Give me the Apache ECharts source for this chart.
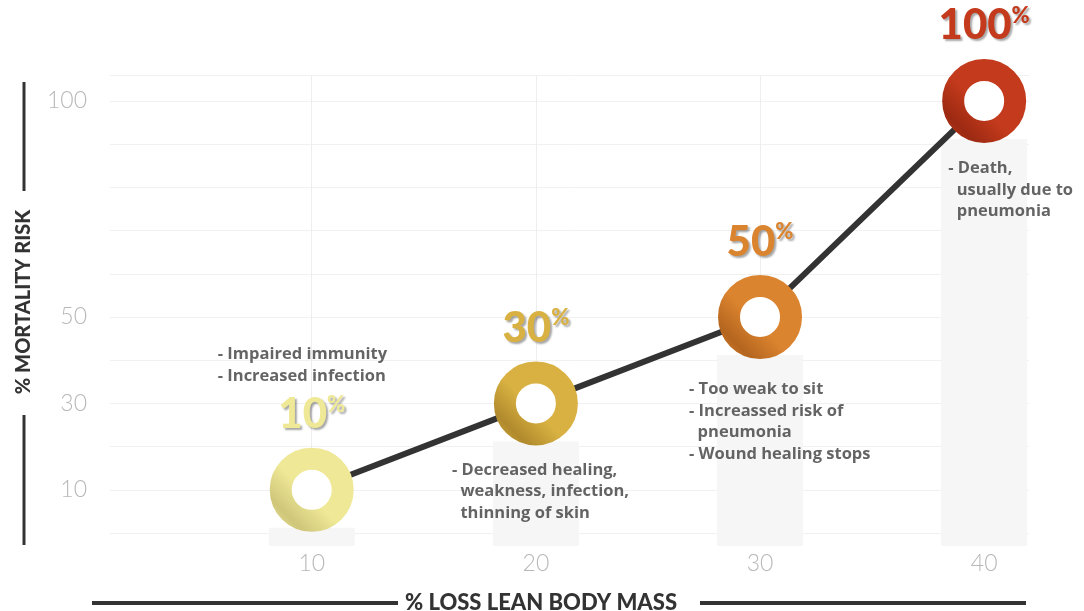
<!DOCTYPE html>
<html lang="en">
<head>
    <meta charset="UTF-8">
    <title>Mortality risk vs loss of lean body mass</title>
    <script src="https://cdn.jsdelivr.net/npm/echarts@6/dist/echarts.min.js"></script>
    <style>
        * { margin: 0; padding: 0; box-sizing: border-box; }
        body { background: #fff; }
        #chart { width: 1084px; height: 611px; }
    </style>
</head>
<body>
    <div id="chart"></div>
    <script>
        // data
        const lossMass = [10, 20, 30, 40];
        const mortality = [10, 30, 50, 100];
        const yTickLabels = [10, 30, 50, 100];
        const xTickLabels = [10, 20, 30, 40];
        const pctLabels = ['10', '30', '50', '100'];
        const notes = [
            '- Impaired immunity\n- Increased infection',
            '- Decreased healing,\n  weakness, infection,\n  thinning of skin',
            '- Too weak to sit\n- Increassed risk of\n  pneumonia\n- Wound healing stops',
            '- Death,\n  usually due to\n  pneumonia'
        ];

        // styling
        const ringColors = ['#efe896', '#d8b142', '#db842f', '#c43a1c'];
        const ringShade = ['#cfc67a', '#b08a2c', '#b4651f', '#9c2a12'];
        const noteOffsets = [[-94, -146], [-84, 56], [-71, 62], [-36, 57]];

        const chart = echarts.init(document.getElementById('chart'));

        const points = lossMass.map((x, i) => [x, mortality[i]]);

        const ringStroke = i => new echarts.graphic.LinearGradient(1, 0, 0, 1, [
            { offset: 0, color: ringColors[i] },
            { offset: 0.55, color: ringColors[i] },
            { offset: 0.8, color: ringShade[i] },
            { offset: 1, color: ringColors[i] }
        ]);

        const option = {
            animation: false,
            grid: { left: 110, right: 55, top: 75, bottom: 78 },
            xAxis: {
                type: 'value', min: 1, max: 42, interval: 1,
                axisLine: { show: false }, axisTick: { show: false },
                splitLine: { show: false },
                axisLabel: {
                    margin: 19, color: '#b8b8b8', fontSize: 23, fontFamily: 'Lato', fontWeight: 300,
                    formatter: v => xTickLabels.includes(v) ? String(v) : ''
                }
            },
            yAxis: {
                type: 'value', min: 0, max: 106, interval: 10,
                axisLine: { show: false }, axisTick: { show: false },
                splitLine: { lineStyle: { color: '#f1f1f1', width: 1 } },
                axisLabel: {
                    margin: 23, color: '#b8b8b8', fontSize: 23, fontFamily: 'Lato', fontWeight: 300,
                    formatter: v => yTickLabels.includes(v) ? String(v) : ''
                }
            },
            series: [
                {
                    // pale columns behind each point
                    type: 'custom',
                    z: 1,
                    data: points,
                    renderItem(params, api) {
                        const top = api.coord([api.value(0), api.value(1)]);
                        const base = api.coord([api.value(0), 0]);
                        const y0 = top[1] + 38;
                        return {
                            type: 'rect',
                            shape: { x: top[0] - 43, y: y0, width: 86, height: base[1] + 13 - y0 },
                            style: { fill: '#f6f6f6' }
                        };
                    }
                },
                {
                    type: 'line',
                    z: 3,
                    data: points.map((p, i) => ({
                        value: p,
                        itemStyle: { borderColor: ringStroke(i) },
                        label: {
                            rich: {
                                n: { fontSize: 42, fontWeight: 900, fontFamily: 'Lato', color: ringColors[i] },
                                p: { fontSize: 22, fontWeight: 900, fontFamily: 'Lato', color: ringColors[i], verticalAlign: 'top', padding: [0, 0, 14, 0] }
                            }
                        }
                    })),
                    lineStyle: { color: '#333333', width: 6 },
                    symbol: 'circle',
                    symbolSize: 62,
                    itemStyle: { color: '#ffffff', borderWidth: 22 },
                    label: {
                        show: true,
                        position: 'top',
                        distance: 12,
                        formatter: p => '{n|' + pctLabels[p.dataIndex] + '}{p|%}',
                        textShadowColor: 'rgba(0,0,0,0.35)',
                        textShadowOffsetX: 2,
                        textShadowOffsetY: 2,
                        textShadowBlur: 2
                    },
                    markLine: {
                        silent: true,
                        symbol: 'none',
                        z: 1,
                        label: { show: false },
                        lineStyle: { color: '#eeeeee', width: 1, type: 'solid' },
                        data: lossMass.map(x => ({ xAxis: x }))
                    }
                },
                {
                    // descriptive notes next to each point
                    type: 'scatter',
                    z: 4,
                    symbolSize: 1,
                    itemStyle: { color: 'rgba(0,0,0,0)' },
                    data: points.map((p, i) => ({
                        value: p,
                        label: { offset: noteOffsets[i] }
                    })),
                    label: {
                        show: true,
                        position: 'inside',
                        align: 'left',
                        verticalAlign: 'top',
                        formatter: p => notes[p.dataIndex],
                        color: '#3d3d3d',
                        fontFamily: 'Open Sans',
                        fontWeight: 'bold',
                        fontSize: 16.5,
                        lineHeight: 21.5
                    }
                }
            ],
            graphic: [
                {
                    type: 'text', x: 24, y: 302, rotation: Math.PI / 2,
                    style: {
                        text: '% MORTALITY RISK', fill: '#333', font: '900 20px Lato',
                        align: 'center', verticalAlign: 'middle'
                    }
                },
                { type: 'line', shape: { x1: 24, y1: 82, x2: 24, y2: 191 }, style: { stroke: '#333', lineWidth: 3 } },
                { type: 'line', shape: { x1: 24, y1: 415, x2: 24, y2: 545 }, style: { stroke: '#333', lineWidth: 3 } },
                {
                    type: 'text', x: 541, y: 603,
                    style: {
                        text: '% LOSS LEAN BODY MASS', fill: '#333', font: '900 22px Lato',
                        align: 'center', verticalAlign: 'middle'
                    }
                },
                { type: 'line', shape: { x1: 92, y1: 603, x2: 398, y2: 603 }, style: { stroke: '#333', lineWidth: 4 } },
                { type: 'line', shape: { x1: 700, y1: 603, x2: 1026, y2: 603 }, style: { stroke: '#333', lineWidth: 4 } }
            ]
        };

        chart.setOption(option);
    </script>
</body>
</html>
